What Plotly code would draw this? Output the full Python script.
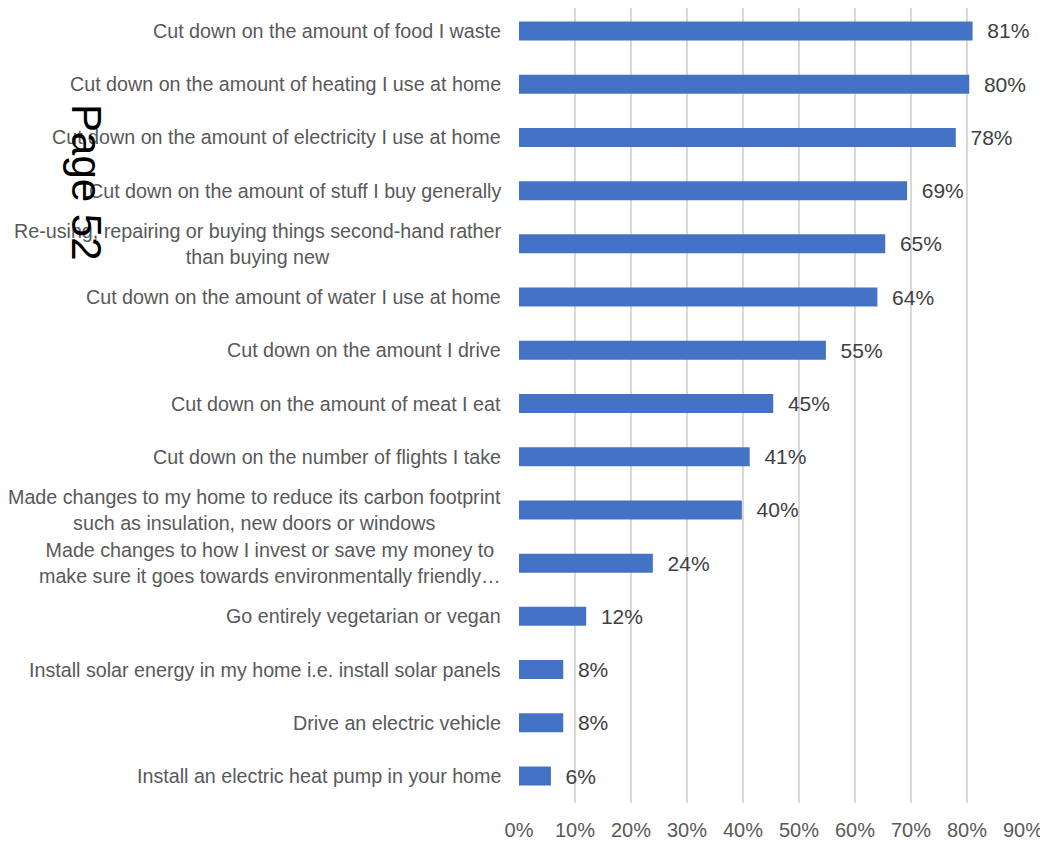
import plotly.graph_objects as go

# survey answers, top to bottom
categories = [
    "Cut down on the amount of food I waste",
    "Cut down on the amount of heating I use at home",
    "Cut down on the amount of electricity I use at home",
    "Cut down on the amount of stuff I buy generally",
    "Re-using, repairing or buying things second-hand rather<br>than buying new",
    "Cut down on the amount of water I use at home",
    "Cut down on the amount I drive",
    "Cut down on the amount of meat I eat",
    "Cut down on the number of flights I take",
    "Made changes to my home to reduce its carbon footprint<br>such as insulation, new doors or windows",
    "Made changes to how I invest or save my money to<br>make sure it goes towards environmentally friendly…",
    "Go entirely vegetarian or vegan",
    "Install solar energy in my home i.e. install solar panels",
    "Drive an electric vehicle",
    "Install an electric heat pump in your home",
]
values = [81.0, 80.4, 78.0, 69.3, 65.4, 64.0, 54.8, 45.4, 41.2, 39.8, 23.9, 12.0, 7.9, 7.9, 5.7]
x_ticks = [0, 10, 20, 30, 40, 50, 60, 70, 80, 90]
x_labels = [f"{t}%" for t in x_ticks]

font = "Liberation Sans, Arial, sans-serif"

fig = go.Figure(go.Bar(
    x=values, y=categories, orientation="h",
    width=0.357,
    marker=dict(color="#4472c4", line=dict(width=0)),
    text=[f"  {v:.0f}%" for v in values],
    textposition="outside",
    constraintext="none",
    textfont=dict(size=21, color="#404040", family=font),
    cliponaxis=False,
))

# category labels as annotations so wrapped lines stay centred
for c in categories:
    fig.add_annotation(x=0, xref="paper", y=c, yref="y", text=c,
                       showarrow=False, xanchor="right", align="center",
                       xshift=-16, font=dict(size=19.7, color="#595959", family=font))

# page stamp overlaid on the left
fig.add_annotation(x=-0.857, xref="paper", y=0.781, yref="paper", text="Page 52",
                   showarrow=False, textangle=90, xanchor="center", yanchor="middle",
                   font=dict(size=42, color="black", family=font))

fig.update_layout(
    width=1040, height=835,
    margin=dict(l=511, r=25, t=0, b=40),
    paper_bgcolor="white", plot_bgcolor="white",
    showlegend=False,
    xaxis=dict(range=[0, 90], tickvals=x_ticks, ticktext=x_labels,
               showgrid=True, gridcolor="#d9d9d9", gridwidth=2,
               zeroline=False, showline=False, ticklabelstandoff=13,
               tickfont=dict(size=20, color="#595959", family=font)),
    yaxis=dict(range=[14.507, -0.432], showticklabels=False, showgrid=False,
               zeroline=False, showline=False),
)
fig.write_html("out.html")
